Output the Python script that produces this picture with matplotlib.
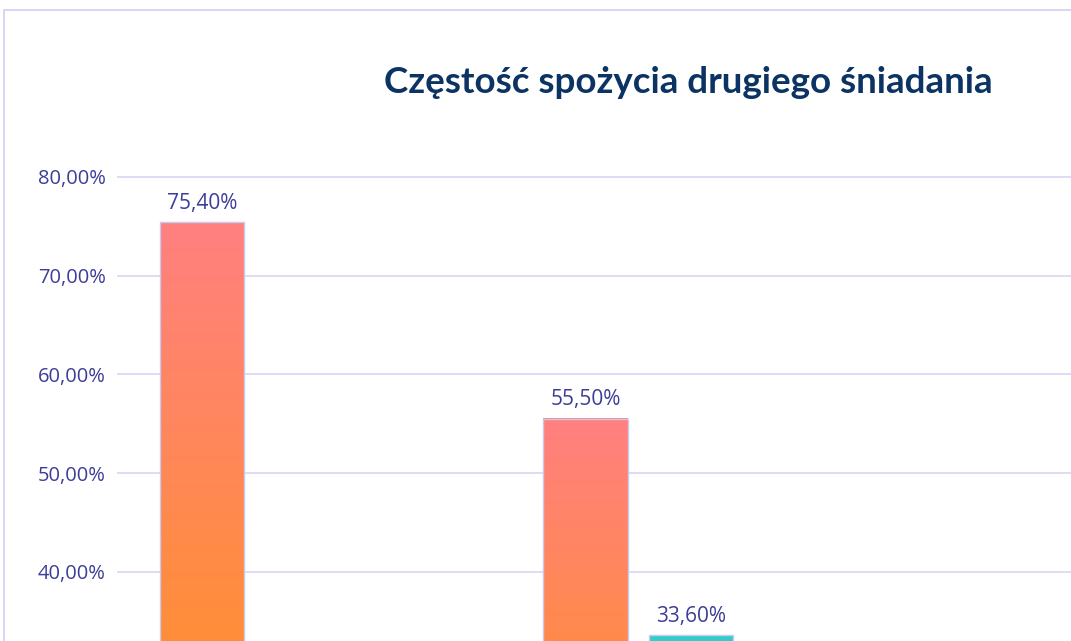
import numpy as np
import matplotlib
matplotlib.use('Agg')
import matplotlib.pyplot as plt
from matplotlib.patches import Rectangle
from matplotlib.colors import LinearSegmentedColormap

# data (only the part of the chart that is visible)
cat_pos = [0, 1]
series_a = [75.40, 55.50]          # orange gradient series
series_b = [np.nan, 33.60]         # teal series (first value not visible)
yticks = [40, 50, 60, 70, 80]
title = 'Częstość spożycia drugiego śniadania'

W, H = 1071, 641
fig = plt.figure(figsize=[W/100., H/100.], dpi=100)
fig.patch.set_facecolor('white')

# chart area border (cropped on right and bottom)
fig.patches.append(Rectangle((4./W, -0.1), 1.2, 1 - 10./H + 0.1, transform=fig.transFigure,
                             fill=False, edgecolor='#d0d0f2', linewidth=1.2, clip_on=False))

# axes placement in pixels
ax_left, ax_right = 117., 1071.
y_top_px, y_top_val = 167.1, 81.0
px_per_unit = 9.87
y_bot_val = y_top_val - (H - y_top_px)/px_per_unit
ax = fig.add_axes([ax_left/W, 0., (ax_right-ax_left)/W, (H - y_top_px)/H])

cat_px = 383.5
bar_w = 84.5/cat_px
off = 105.5/2/cat_px
x0 = -(254.75 - ax_left)/cat_px

lab_col = '#3d3d99'
grad = LinearSegmentedColormap.from_list('g', ['#ff9900', '#ff8080'])
edge = '#c9c9f0'

def pct(v):
    return ('%.2f%%' % v).replace('.', ',')

for x, v in zip(cat_pos, series_a):
    if np.isnan(v):
        continue
    xc = x - off
    ax.imshow(np.linspace(0, 1, 256).reshape(-1, 1), cmap=grad, origin='lower', aspect='auto',
              extent=[xc - bar_w/2, xc + bar_w/2, 0, v], zorder=2)
    ax.bar(xc, v, bar_w, facecolor='none', edgecolor=edge, linewidth=1, zorder=3)
    ax.annotate(pct(v), (xc, v), xytext=(0, 6), textcoords='offset points',
                ha='center', va='bottom', color=lab_col, fontsize=15, family='Open Sans')

for x, v in zip(cat_pos, series_b):
    if np.isnan(v):
        continue
    xc = x + off
    ax.bar(xc, v, bar_w, color='#33cccc', edgecolor=edge, linewidth=1, zorder=3)
    ax.annotate(pct(v), (xc, v), xytext=(0, 6), textcoords='offset points',
                ha='center', va='bottom', color=lab_col, fontsize=15, family='Open Sans')

ax.set_xlim(x0, x0 + (ax_right-ax_left)/cat_px)
ax.set_ylim(y_bot_val, y_top_val)
ax.set_yticks(yticks)
ax.set_yticklabels(['%d,00%%' % t for t in yticks], color=lab_col, fontsize=14.5, family='Open Sans')
ax.set_xticks([])
ax.tick_params(axis='y', length=0, pad=8)
ax.yaxis.grid(True, color='#d6d6f5', linewidth=1.2, zorder=0)
ax.set_axisbelow(True)
for s in ax.spines.values():
    s.set_visible(False)
ax.patch.set_alpha(0)

# title: fit the width seen in the reference (383..993 px)
t = fig.text(688./W, 1 - 93./H, title, ha='center', va='baseline', fontsize=26,
             fontweight='bold', color='#0b3363', family='Lato')
r = fig.canvas.get_renderer()
w = t.get_window_extent(r).width
t.set_fontsize(26 * 610. / w)

fig.savefig('out.png', dpi=100)
